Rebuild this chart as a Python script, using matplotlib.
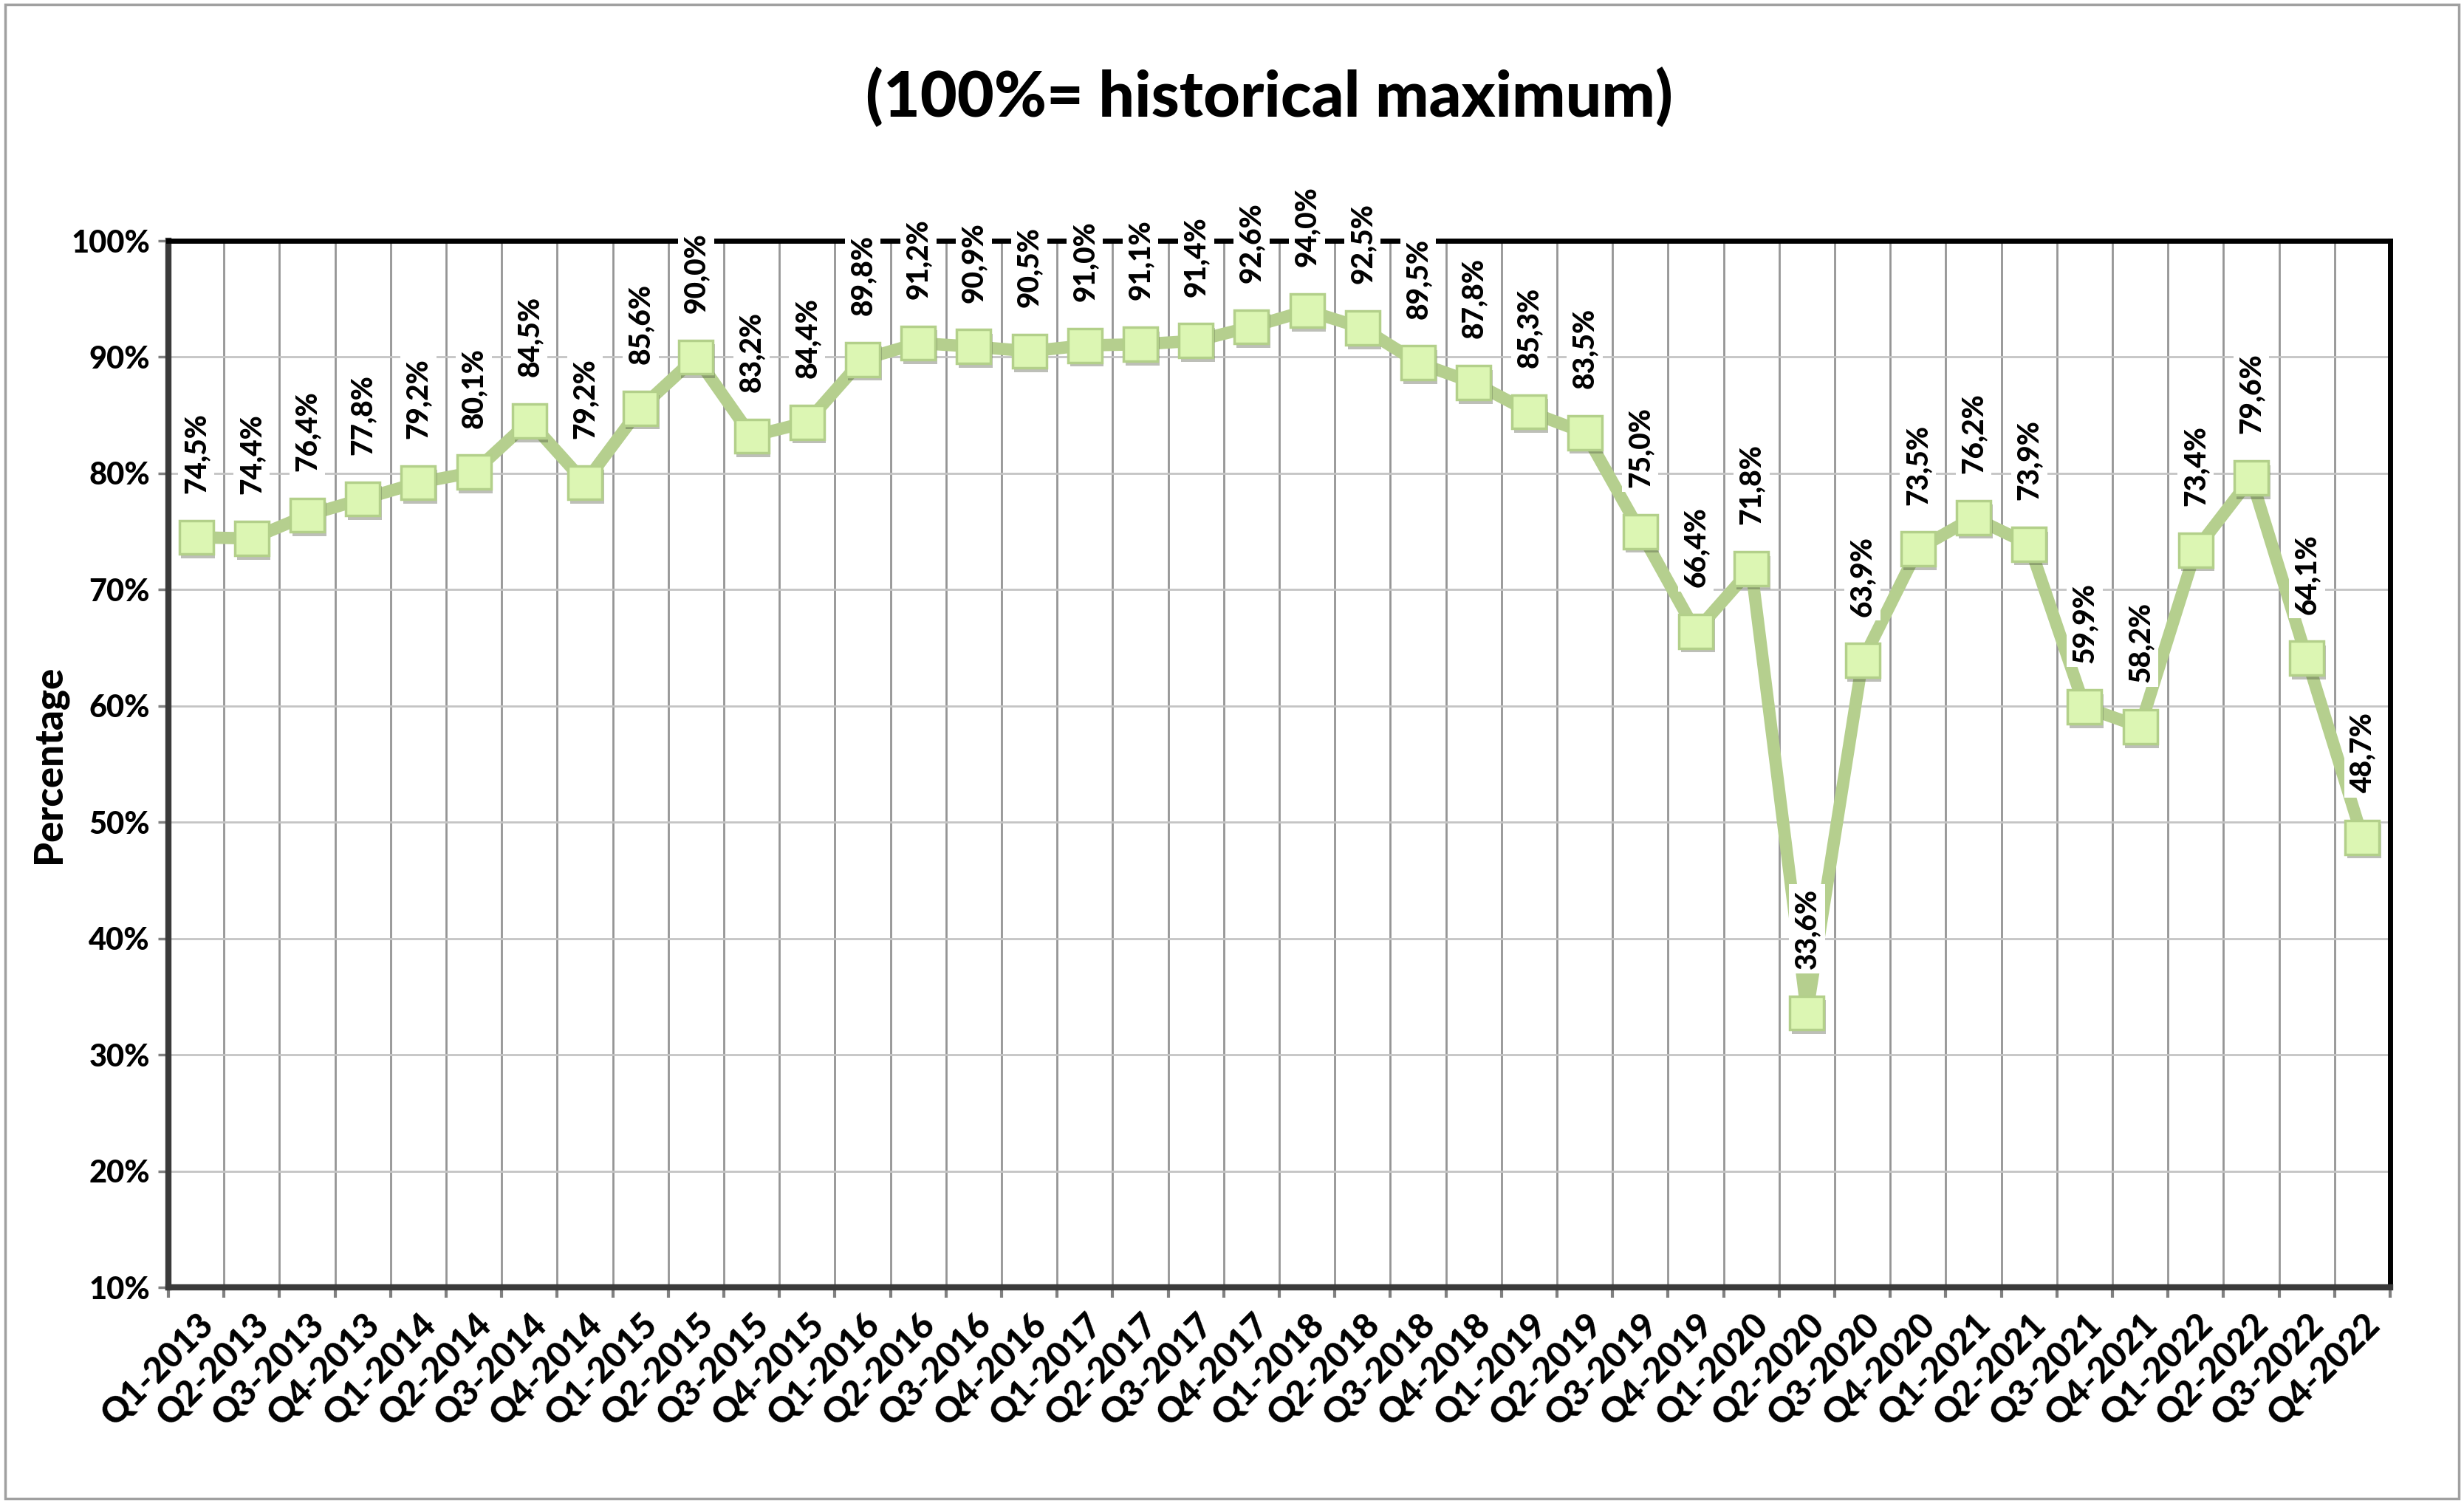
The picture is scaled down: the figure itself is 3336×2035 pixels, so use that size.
import matplotlib
matplotlib.use("Agg")
import matplotlib.pyplot as plt
import matplotlib.patheffects as pe
from matplotlib.patches import Rectangle
from matplotlib.ticker import FixedLocator, FuncFormatter

plt.rcParams['font.family'] = ['Lato', 'DejaVu Sans']

# Quarterly values (% of historical maximum)
quarters = [f"Q{q}-{y}" for y in range(2013, 2023) for q in range(1, 5)]
values = [74.5, 74.4, 76.4, 77.8, 79.2, 80.1, 84.5, 79.2, 85.6, 90.0,
          83.2, 84.4, 89.8, 91.2, 90.9, 90.5, 91.0, 91.1, 91.4, 92.6,
          94.0, 92.5, 89.5, 87.8, 85.3, 83.5, 75.0, 66.4, 71.8, 33.6,
          63.9, 73.5, 76.2, 73.9, 59.9, 58.2, 73.4, 79.6, 64.1, 48.7]
title = "(100%= historical maximum)"
y_label = "Percentage"
y_ticks = [10, 20, 30, 40, 50, 60, 70, 80, 90, 100]

W, H = 3336, 2035
fig = plt.figure(figsize=(W / 100, H / 100), dpi=100)
fig.patch.set_facecolor('white')
fig.patches.append(Rectangle((0.002, 0.003), 0.996, 0.994, transform=fig.transFigure,
                             fill=False, edgecolor='#a0a0a0', linewidth=2.5))

ax = fig.add_axes([228 / W, (H - 1743) / H, (3236 - 228) / W, (1743 - 326) / H])

x = list(range(len(values)))
line_color = '#b5cf8e'
ax.plot(x, values, color=line_color, linewidth=12, solid_joinstyle='round', zorder=3)
ax.plot(x, values, linestyle='none', marker='s', markersize=33,
        markerfacecolor='#dcf6b3', markeredgecolor='#b3d08a', markeredgewidth=2.5,
        zorder=4,
        path_effects=[pe.SimplePatchShadow(offset=(2, -4), alpha=0.35), pe.Normal()])

# data labels, rotated, on white boxes
heavy = 900
for xi, v in zip(x, values):
    ax.annotate(f"{v:.1f}%".replace('.', ','), (xi, v), xytext=(0, 43),
                textcoords='offset points', rotation=90, ha='center', va='bottom',
                fontsize=28, fontweight=heavy, color='black', zorder=6,
                annotation_clip=False,
                bbox=dict(boxstyle='square,pad=0.15', facecolor='white', edgecolor='none'))

ax.set_xlim(-0.5, len(values) - 0.5)
ax.set_ylim(10, 100)

ax.set_xticks(x)
ax.set_xticklabels(quarters, rotation=45, ha='right', va='top', rotation_mode='anchor',
                   fontsize=34, fontweight=heavy)
ax.xaxis.set_minor_locator(FixedLocator([i - 0.5 for i in range(len(values) + 1)]))
ax.tick_params(axis='x', which='major', length=0, pad=20)
ax.tick_params(axis='x', which='minor', length=10, width=3, color='#808080')

ax.set_yticks(y_ticks)
ax.yaxis.set_major_formatter(FuncFormatter(lambda v, p: f"{v:.0f}%"))
ax.tick_params(axis='y', length=10, width=2.5, color='#808080', labelsize=30, pad=8)
for t in ax.get_yticklabels():
    t.set_fontweight(heavy)

ax.grid(axis='y', which='major', color='#c4c4c4', linewidth=2)
ax.grid(axis='x', which='minor', color='#959595', linewidth=2)
ax.set_axisbelow(True)

for side in ['top', 'right']:
    ax.spines[side].set_color('black')
    ax.spines[side].set_linewidth(5)
for side in ['left', 'bottom']:
    ax.spines[side].set_color('#3a3a3a')
    ax.spines[side].set_linewidth(6)
for s in ax.spines.values():
    s.set_zorder(5)

ax.set_ylabel(y_label, fontsize=38, fontweight=heavy, labelpad=4)
fig.text(0.515, 0.935, title, ha='center', va='center', fontsize=62, fontweight=heavy)

fig.savefig('out.png', dpi=100)
